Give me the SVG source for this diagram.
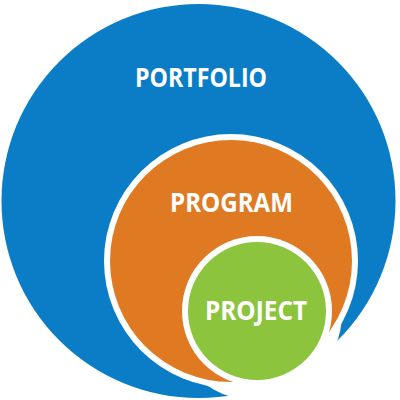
<svg xmlns="http://www.w3.org/2000/svg" width="400" height="400" viewBox="0 0 400 400">
  <style>
    .lbl { font-family: "Open Sans", "Liberation Sans", sans-serif; font-weight: 700; font-size: 26px; fill: #ffffff; text-anchor: middle; }
    .gap { fill: #ffffff; }
  </style>
  <rect width="400" height="400" fill="#ffffff"/>
  <g id="portfolio">
    <circle cx="198.5" cy="201" r="197" fill="#0a7dc6"/>
    <circle class="gap" cx="255" cy="313" r="87"/>
    <text class="lbl" x="201" y="87" textLength="132" lengthAdjust="spacingAndGlyphs">PORTFOLIO</text>
  </g>
  <g id="program">
    <circle class="gap" cx="231" cy="261" r="127"/>
    <circle cx="231" cy="261" r="121" fill="#e07a22"/>
    <text class="lbl" x="231.5" y="212" textLength="123" lengthAdjust="spacingAndGlyphs">PROGRAM</text>
  </g>
  <g id="project">
    <circle class="gap" cx="257" cy="311" r="75"/>
    <circle cx="257" cy="311" r="69" fill="#8cc43e"/>
    <text class="lbl" x="256" y="320" textLength="102" lengthAdjust="spacingAndGlyphs">PROJECT</text>
  </g>
</svg>
